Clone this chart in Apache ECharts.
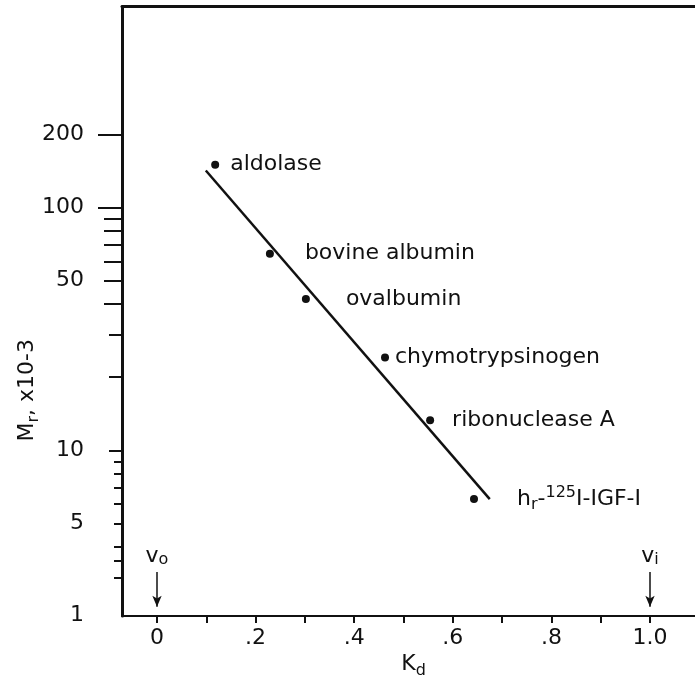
<!DOCTYPE html>
<html><head><meta charset="utf-8">
<script src="https://cdn.jsdelivr.net/npm/echarts@6/dist/echarts.min.js"></script>
<style>html,body{margin:0;padding:0;background:#fff}#c{width:695px;height:682px}</style>
</head><body><div id="c"></div>
<script>
// ---- data ----
const proteinNames = ['aldolase', 'bovine albumin', 'ovalbumin', 'chymotrypsinogen', 'ribonuclease A', 'IGF'];
const kdValues = [0.118, 0.229, 0.302, 0.4625, 0.554, 0.643];
const mrValues = [150, 64.5, 42, 24.1, 13.3, 6.3];
const fitLineKd = [0.099, 0.675];
const fitLineMr = [142, 6.3];
const xTickValues = [0, 0.1, 0.2, 0.3, 0.4, 0.5, 0.6, 0.7, 0.8, 0.9, 1.0];
const xLabelValues = [0, 0.2, 0.4, 0.6, 0.8, 1.0];
const xLabelTexts = ['0', '.2', '.4', '.6', '.8', '1.0'];
const yLabelValues = [200, 100, 50, 10, 5];
const yTicksLong = [200, 100];
const yTicksMid = [90, 80, 70, 60, 50, 40];
const yTicksShort = [30, 20, 10];
const yTicksTiny = [9, 8, 7, 6, 5, 4, 3.5, 3];
const yBreakValue = 2.085;   // axis bottom (axis is broken, labelled "1")
const yBreakLabel = '1';
const volumeMarkKd = [0, 1.0];
const volumeMarkNames = ['o', 'i'];
const volumeMarkTopMr = 3.16;
const volumeMarkBottomMr = 2.27;

// ---- styling ----
const FONT = 'DejaVu Sans';
const INK = '#111';
const labelGaps = [11, 31, 36, 6, 18, 39];
const xMin = -0.071, xMax = 1.0913;
const yMin = 2.08, yMax = 672;

const chart = echarts.init(document.getElementById('c'), null, {renderer: 'canvas'});

function labelFor(i) {
  if (proteinNames[i] === 'IGF') return 'h{sub|r}-{sup|125}I-IGF-I';
  return proteinNames[i];
}

const richStyles = {
  sub: {fontSize: 16, fontFamily: FONT, color: INK, verticalAlign: 'bottom'},
  sup: {fontSize: 16, fontFamily: FONT, color: INK, verticalAlign: 'top'}
};

const yAxisBase = {
  type: 'log', logBase: 10, min: yMin, max: yMax, gridIndex: 0, position: 'left',
  splitLine: {show: false}, minorTick: {show: false}
};

function tickAxis(values, len) {
  return Object.assign({}, yAxisBase, {
    axisLine: {show: false, onZero: false},
    axisLabel: {show: false},
    axisTick: {show: true, inside: false, length: len, customValues: values, lineStyle: {color: INK, width: 2}}
  });
}

const pointData = kdValues.map((k, i) => ({
  value: [k, mrValues[i]],
  label: {show: true, position: 'right', distance: labelGaps[i], formatter: labelFor(i)}
}));

const option = {
  animation: false,
  backgroundColor: '#fff',
  grid: {left: 122, right: 0, top: 6.5, bottom: 66, containLabel: false, outerBoundsMode: 'none'},
  xAxis: [{
    type: 'value', min: xMin, max: xMax, position: 'bottom',
    splitLine: {show: false},
    axisLine: {show: true, onZero: false, lineStyle: {color: INK, width: 2}},
    axisTick: {show: true, inside: false, length: 7, customValues: xTickValues, lineStyle: {color: INK, width: 2}},
    axisLabel: {
      show: true, customValues: xLabelValues, margin: 11, color: INK, fontFamily: FONT, fontSize: 22,
      formatter: v => { const i = xLabelValues.findIndex(x => Math.abs(x - v) < 1e-6); return i >= 0 ? xLabelTexts[i] : ''; }
    },
    name: 'K{sub|d}', nameLocation: 'middle', nameGap: 33, nameMoveOverlap: false,
    nameTextStyle: {color: INK, fontFamily: FONT, fontSize: 22, lineHeight: 30, padding: [0, 0, 0, 10], rich: richStyles}
  }, {
    type: 'value', min: xMin, max: xMax, position: 'top',
    splitLine: {show: false},
    axisLine: {show: true, onZero: false, lineStyle: {color: INK, width: 3}},
    axisTick: {show: false}, axisLabel: {show: false}
  }],
  yAxis: [
    Object.assign({}, yAxisBase, {
      axisLine: {show: true, onZero: false, lineStyle: {color: INK, width: 3}},
      axisTick: {show: true, inside: false, length: 24, customValues: yTicksLong, lineStyle: {color: INK, width: 2}},
      axisLabel: {
        show: true, customValues: yLabelValues.concat([yBreakValue]), margin: 38, color: INK, fontFamily: FONT, fontSize: 22,
        formatter: v => (Math.abs(v - yBreakValue) < 1e-3 ? yBreakLabel : String(Math.round(v)))
      },
      name: 'M{sub|r}, x10-3', nameLocation: 'middle', nameGap: 80, nameRotate: 90, nameMoveOverlap: false,
      nameTextStyle: {color: INK, fontFamily: FONT, fontSize: 22, lineHeight: 30, padding: [0, 158, 0, 0], rich: richStyles}
    }),
    tickAxis(yTicksMid, 18),
    tickAxis(yTicksShort, 13),
    tickAxis(yTicksTiny, 8)
  ],
  series: [{
    type: 'line', xAxisIndex: 0, yAxisIndex: 0,
    data: fitLineKd.map((k, i) => [k, fitLineMr[i]]),
    showSymbol: false, symbol: 'none', silent: true,
    lineStyle: {color: INK, width: 2.5}, z: 2
  }, {
    type: 'scatter', xAxisIndex: 0, yAxisIndex: 0,
    data: pointData, symbol: 'circle', symbolSize: 8,
    itemStyle: {color: INK, opacity: 1}, z: 3,
    label: {color: INK, fontFamily: FONT, fontSize: 22, lineHeight: 28, rich: richStyles},
    markLine: {
      silent: true, symbol: ['none', 'arrow'], symbolSize: [7, 11], precision: 4,
      lineStyle: {color: INK, width: 1.5, type: 'solid', opacity: 1},
      label: {show: true, position: 'start', distance: 4, color: INK, fontFamily: FONT, fontSize: 22, lineHeight: 24, rich: richStyles},
      data: volumeMarkKd.map((k, i) => [
        {coord: [k, volumeMarkTopMr], label: {formatter: 'v{sub|' + volumeMarkNames[i] + '}'}},
        {coord: [k, volumeMarkBottomMr]}
      ])
    }
  }]
};
chart.setOption(option);
</script>
</body></html>
